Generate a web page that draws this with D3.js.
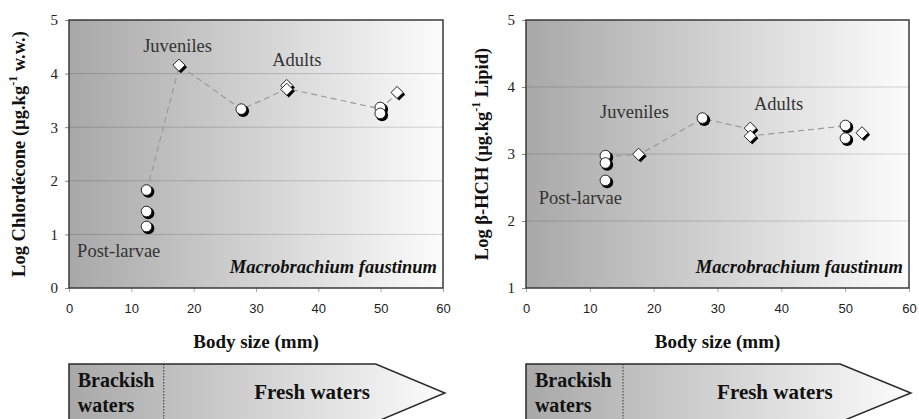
<!DOCTYPE html>
<html>
<head>
<meta charset="utf-8">
<script src="https://cdn.jsdelivr.net/npm/d3@7"></script>
<style>
  body { margin: 0; background: #fff; }
  svg { display: block; }
</style>
</head>
<body>
<div id="chart"></div>
<script>
// Body size (mm) and log concentrations
var chlCircleX = [12.5, 12.5, 12.5, 27.7, 50.0, 50.0];
var chlCircleY = [1.82, 1.42, 1.14, 3.33, 3.36, 3.25];
var chlDiamondX = [17.7, 35.0, 35.0, 52.7];
var chlDiamondY = [4.15, 3.77, 3.70, 3.64];
var chlTrendX = [12.5, 17.7, 27.7, 35.0, 50.0, 52.7];
var chlTrendY = [1.82, 4.15, 3.33, 3.72, 3.34, 3.64];

var hchCircleX = [12.5, 12.5, 12.5, 27.7, 50.1, 50.1];
var hchCircleY = [2.97, 2.86, 2.60, 3.53, 3.42, 3.23];
var hchDiamondX = [17.7, 35.2, 35.2, 52.7];
var hchDiamondY = [2.99, 3.38, 3.26, 3.31];
var hchTrendX = [12.5, 17.7, 27.7, 35.2, 35.2, 50.1, 52.7];
var hchTrendY = [2.97, 2.99, 3.53, 3.37, 3.27, 3.42, 3.31];

var xTicks = [0, 10, 20, 30, 40, 50, 60];
var chlTicks = [0, 1, 2, 3, 4, 5];
var hchTicks = [1, 2, 3, 4, 5];

var W = 919, H = 419;
var serif = "'Liberation Serif', 'Times New Roman', serif";
var sans = "'Liberation Sans', Arial, sans-serif";

var svg = d3.select("#chart").append("svg")
    .attr("width", W)
    .attr("height", H);

var defs = svg.append("defs");
var grad = defs.append("linearGradient").attr("id", "bgGrad")
    .attr("x1", "0%").attr("x2", "100%").attr("y1", "0%").attr("y2", "0%");
grad.append("stop").attr("offset", "0%").attr("stop-color", "#a8a8a8");
grad.append("stop").attr("offset", "100%").attr("stop-color", "#fcfcfc");

function zip(xs, ys) {
    return xs.map(function(x, i) { return {x: x, y: ys[i]}; });
}

function drawPanel(opt) {
    var x = d3.scaleLinear().domain([0, 60]).range([opt.left, opt.right]);
    var y = d3.scaleLinear().domain(opt.yDomain).range([288, 20]);
    var g = svg.append("g");

    // plot background with grey-to-white gradient
    g.append("rect")
        .attr("x", x(0)).attr("y", y(opt.yDomain[1]))
        .attr("width", x(60) - x(0)).attr("height", y(opt.yDomain[0]) - y(opt.yDomain[1]))
        .attr("fill", "url(#bgGrad)");

    // horizontal gridlines
    g.selectAll(".grid").data(opt.yTicks.slice(1, -1)).enter().append("line")
        .attr("x1", x(0)).attr("x2", x(60))
        .attr("y1", function(d) { return y(d); })
        .attr("y2", function(d) { return y(d); })
        .attr("stroke", "#000").attr("stroke-opacity", 0.16).attr("stroke-width", 1);

    // axes
    var yAxis = g.append("g")
        .attr("transform", "translate(" + x(0) + ",0)")
        .call(d3.axisLeft(y).tickValues(opt.yTicks).tickSize(4).tickPadding(7).tickFormat(d3.format("d")));
    yAxis.select(".domain").remove();
    yAxis.selectAll("line").attr("stroke", "#888");
    yAxis.selectAll("text").attr("font-family", serif).attr("font-size", 15).attr("fill", "#222");

    var xAxis = g.append("g")
        .attr("transform", "translate(0," + y(opt.yDomain[0]) + ")")
        .call(d3.axisBottom(x).tickValues(xTicks).tickSize(4).tickPadding(12));
    xAxis.select(".domain").remove();
    xAxis.selectAll("line").attr("stroke", "#aaa");
    xAxis.selectAll("text").attr("font-family", sans).attr("font-size", 13).attr("fill", "#222");

    // frame
    g.append("rect")
        .attr("x", x(0)).attr("y", y(opt.yDomain[1]))
        .attr("width", x(60) - x(0)).attr("height", y(opt.yDomain[0]) - y(opt.yDomain[1]))
        .attr("fill", "none").attr("stroke", "#3a3a3a").attr("stroke-width", 1.5);

    // dashed trend line
    g.append("path")
        .datum(zip(opt.trendX, opt.trendY))
        .attr("fill", "none")
        .attr("stroke", "#9a9a9a")
        .attr("stroke-width", 1.2)
        .attr("stroke-dasharray", "6,4")
        .attr("d", d3.line().x(function(d) { return x(d.x); }).y(function(d) { return y(d.y); }));

    // diamonds: black shadow + white diamond
    var diamond = d3.symbol().type(d3.symbolDiamond2).size(95);
    var dia = g.selectAll(".dia").data(zip(opt.diaX, opt.diaY)).enter().append("g")
        .attr("transform", function(d) { return "translate(" + x(d.x) + "," + y(d.y) + ")"; });
    dia.append("path").attr("d", diamond).attr("transform", "translate(1.6,1.6)").attr("fill", "#000");
    dia.append("path").attr("d", diamond).attr("transform", "translate(-0.4,-0.4)")
        .attr("fill", "#fff").attr("stroke", "#111").attr("stroke-width", 0.9);

    // circles: black shadow + white circle
    var circ = g.selectAll(".circ").data(zip(opt.circX, opt.circY)).enter().append("g")
        .attr("transform", function(d) { return "translate(" + x(d.x) + "," + y(d.y) + ")"; });
    circ.append("circle").attr("cx", 1.4).attr("cy", 1.4).attr("r", 6).attr("fill", "#000");
    circ.append("circle").attr("cx", -0.4).attr("cy", -0.4).attr("r", 5.3)
        .attr("fill", "#fff").attr("stroke", "#111").attr("stroke-width", 0.9);

    // stage labels
    opt.labels.forEach(function(l) {
        g.append("text")
            .attr("x", x(l.x)).attr("y", y(l.y))
            .attr("font-family", serif).attr("font-size", 18.5).attr("fill", "#333")
            .text(l.text);
    });

    g.append("text")
        .attr("x", x(60) - 6).attr("y", y(opt.yDomain[0]) - 15)
        .attr("text-anchor", "end")
        .attr("font-family", serif).attr("font-size", 18.5)
        .attr("font-weight", "bold").attr("font-style", "italic").attr("fill", "#111")
        .text("Macrobrachium faustinum");

    // y axis title
    var yt = g.append("text")
        .attr("transform", "translate(" + opt.titleX + ",154) rotate(-90)")
        .attr("text-anchor", "middle")
        .attr("font-family", serif).attr("font-size", 18.5).attr("font-weight", "bold").attr("fill", "#111");
    yt.append("tspan").text(opt.titleA);
    yt.append("tspan").attr("dy", -8).attr("font-size", 12).text("-1");
    yt.append("tspan").attr("dy", 8).text(opt.titleB);

    // x axis title
    g.append("text")
        .attr("x", (x(0) + x(60)) / 2).attr("y", 348)
        .attr("text-anchor", "middle")
        .attr("font-family", serif).attr("font-size", 19).attr("font-weight", "bold").attr("fill", "#111")
        .text("Body size (mm)");

    // habitat arrow under the x axis
    var top = 364, mid = 393, bot = 422;
    g.append("path")
        .attr("d", "M" + x(0) + "," + top + "L" + x(49.2) + "," + top + "L" + x(60.3) + "," + mid +
            "L" + x(49.2) + "," + bot + "L" + x(0) + "," + bot + "Z")
        .attr("fill", "url(#bgGrad)").attr("stroke", "#2a2a2a").attr("stroke-width", 1.5);
    g.append("line")
        .attr("x1", x(15.2)).attr("x2", x(15.2)).attr("y1", top).attr("y2", bot)
        .attr("stroke", "#333").attr("stroke-width", 1).attr("stroke-dasharray", "1.5,1.5");
    g.append("text").attr("x", x(1.4)).attr("y", 387)
        .attr("font-family", serif).attr("font-size", 20).attr("font-weight", "bold").attr("fill", "#111")
        .text("Brackish");
    g.append("text").attr("x", x(1.4)).attr("y", 412)
        .attr("font-family", serif).attr("font-size", 20).attr("font-weight", "bold").attr("fill", "#111")
        .text("waters");
    g.append("text").attr("x", x(39.0)).attr("y", 399)
        .attr("text-anchor", "middle")
        .attr("font-family", serif).attr("font-size", 21).attr("font-weight", "bold").attr("fill", "#111")
        .text("Fresh waters");
}

drawPanel({
    left: 69, right: 443, yDomain: [0, 5], yTicks: chlTicks,
    circX: chlCircleX, circY: chlCircleY, diaX: chlDiamondX, diaY: chlDiamondY,
    trendX: chlTrendX, trendY: chlTrendY,
    titleX: 25, titleA: "Log Chlordécone (µg.kg", titleB: " w.w.)",
    labels: [
        {x: 11.9, y: 4.40, text: "Juveniles"},
        {x: 32.6, y: 4.14, text: "Adults"},
        {x: 1.3, y: 0.58, text: "Post-larvae"}
    ]
});

drawPanel({
    left: 526, right: 909, yDomain: [1, 5], yTicks: hchTicks,
    circX: hchCircleX, circY: hchCircleY, diaX: hchDiamondX, diaY: hchDiamondY,
    trendX: hchTrendX, trendY: hchTrendY,
    titleX: 488, titleA: "Log β-HCH (µg.kg", titleB: " Lipid)",
    labels: [
        {x: 11.6, y: 3.54, text: "Juveniles"},
        {x: 35.7, y: 3.66, text: "Adults"},
        {x: 2.0, y: 2.25, text: "Post-larvae"}
    ]
});
</script>
</body>
</html>
